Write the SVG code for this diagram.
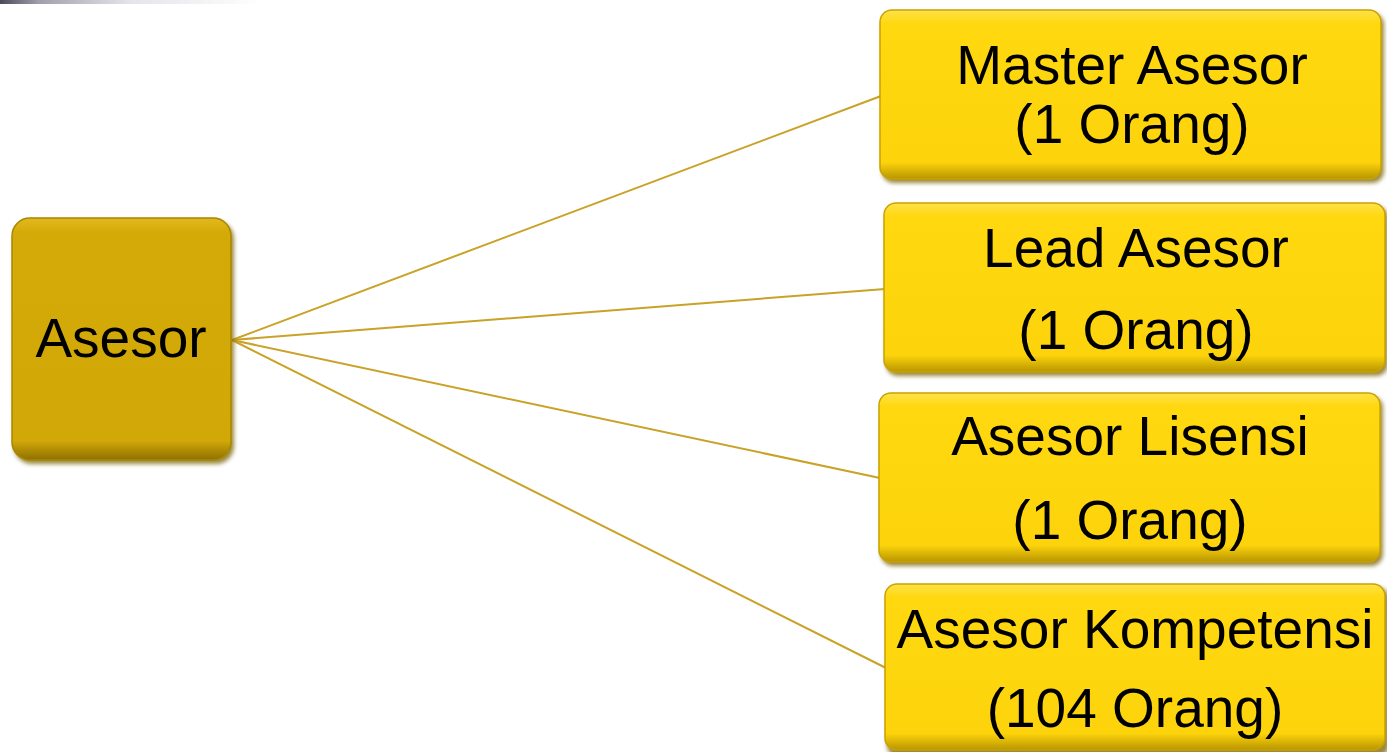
<svg xmlns="http://www.w3.org/2000/svg" width="1387" height="752" viewBox="0 0 1387 752">
<defs>
<linearGradient id="gy" x1="0" y1="0" x2="0" y2="1">
<stop offset="0" stop-color="#FFE24A"/>
<stop offset="0.08" stop-color="#FFD80F"/>
<stop offset="0.9" stop-color="#FDD40C"/>
<stop offset="1" stop-color="#B89500"/>
</linearGradient>
<linearGradient id="gd" x1="0" y1="0" x2="0" y2="1">
<stop offset="0" stop-color="#E2B820"/>
<stop offset="0.06" stop-color="#D4AA08"/>
<stop offset="0.92" stop-color="#D2A808"/>
<stop offset="1" stop-color="#8E7000"/>
</linearGradient>
<linearGradient id="tl" x1="0" y1="0" x2="1" y2="0">
<stop offset="0" stop-color="#4A4A5A"/>
<stop offset="0.15" stop-color="#A0A0AC"/>
<stop offset="0.5" stop-color="#E4E4EA"/>
<stop offset="1" stop-color="#FFFFFF"/>
</linearGradient>
<filter id="sh" x="-5%" y="-5%" width="110%" height="115%">
<feGaussianBlur stdDeviation="2"/>
</filter>
</defs>
<style>
.shadow{fill:#7A6200;opacity:0.75;filter:url(#sh)}
.ny{fill:url(#gy);stroke:#C9A300;stroke-width:1.5}
.nd{fill:url(#gd);stroke:#A88800;stroke-width:1.5}
.t{font-family:"Liberation Sans",Arial,sans-serif;font-size:55px;fill:#000;text-anchor:middle}
.c{stroke:#C9A227;stroke-width:2;fill:none}
</style>
<rect width="1387" height="752" fill="#FFFFFF"/>
<rect x="0" y="0" width="260" height="4" fill="url(#tl)"/>
<g id="connectors">
<line class="c" x1="232" y1="340" x2="881" y2="96"/>
<line class="c" x1="232" y1="340" x2="885" y2="289"/>
<line class="c" x1="232" y1="340" x2="880" y2="478"/>
<line class="c" x1="232" y1="340" x2="886" y2="668"/>
</g>
<g id="node-asesor">
<rect class="shadow" x="14" y="221" width="220" height="243" rx="18"/>
<rect class="nd" x="12" y="218" width="219" height="242" rx="18"/>
<text class="t" x="121" y="357">Asesor</text>
</g>
<g id="node-master">
<rect class="shadow" x="882" y="13" width="502" height="170" rx="12"/>
<rect class="ny" x="880" y="10" width="501" height="169" rx="12"/>
<text class="t" x="1132" y="84">Master Asesor</text>
<text class="t" x="1132" y="143">(1 Orang)</text>
</g>
<g id="node-lead">
<rect class="shadow" x="886" y="206" width="502" height="170" rx="12"/>
<rect class="ny" x="884" y="203" width="501" height="169" rx="12"/>
<text class="t" x="1136" y="267">Lead Asesor</text>
<text class="t" x="1136" y="349">(1 Orang)</text>
</g>
<g id="node-lisensi">
<rect class="shadow" x="881" y="396" width="502" height="170" rx="12"/>
<rect class="ny" x="879" y="393" width="501" height="169" rx="12"/>
<text class="t" x="1130" y="455">Asesor Lisensi</text>
<text class="t" x="1130" y="539">(1 Orang)</text>
</g>
<g id="node-kompetensi">
<rect class="shadow" x="887" y="587" width="502" height="170" rx="12"/>
<rect class="ny" x="885" y="584" width="500" height="166" rx="12"/>
<text class="t" x="1135" y="648">Asesor Kompetensi</text>
<text class="t" x="1135" y="727">(104 Orang)</text>
</g>
</svg>
